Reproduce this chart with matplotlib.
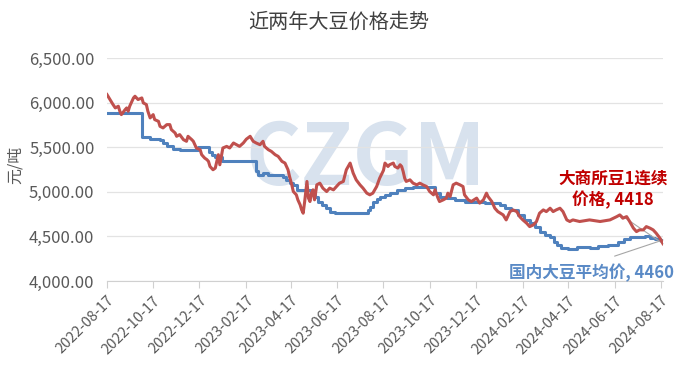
import pandas as pd
import matplotlib
matplotlib.use("Agg")
import matplotlib.pyplot as plt

plt.rcParams["font.family"] = ["Liberation Sans Narrow", "Noto Sans CJK SC", "DejaVu Sans"]

start = pd.Timestamp("2022-08-17")

# 大商所豆1连续 (days after start, price)
red_days = [0, 4, 8, 11, 15, 17, 19, 24, 26, 28, 30, 35, 37, 41, 46, 48, 52, 54, 57, 61,
            63, 68, 70, 74, 79, 83, 85, 90, 92, 96, 101, 105, 107, 112, 114, 118, 123, 125, 129, 132,
            134, 136, 140, 143, 145, 147, 149, 151, 153, 158, 162, 167, 171, 175, 180, 184, 189, 193, 197, 202,
            206, 208, 213, 217, 222, 226, 231, 235, 239, 241, 244, 246, 250, 252, 255, 257, 259, 261, 264, 266,
            268, 270, 272, 274, 277, 281, 285, 290, 294, 299, 303, 307, 312, 316, 321, 325, 329, 334, 338, 343,
            347, 351, 356, 360, 365, 367, 371, 373, 378, 380, 384, 387, 389, 391, 393, 395, 400, 404, 409, 413,
            417, 422, 426, 431, 433, 437, 439, 444, 448, 450, 453, 457, 461, 466, 470, 472, 477, 481, 488, 492,
            497, 501, 503, 508, 512, 516, 523, 527, 532, 536, 541, 545, 549, 554, 558, 563, 567, 571, 576, 580,
            585, 589, 593, 598, 602, 607, 611, 615, 624, 637, 651, 664, 673, 677, 681, 686, 690, 695, 699, 703,
            708, 712, 717, 721, 725, 730, 734]
red_vals = [6090, 6034, 5978, 5940, 5959, 5903, 5865, 5921, 5940, 5903, 5959, 6052, 6071, 6034, 6052, 5996, 5978, 5903, 5828, 5865,
            5809, 5790, 5734, 5716, 5753, 5753, 5697, 5659, 5622, 5641, 5584, 5566, 5622, 5584, 5566, 5491, 5472, 5416, 5378, 5360,
            5341, 5284, 5247, 5266, 5341, 5416, 5303, 5397, 5491, 5509, 5491, 5547, 5528, 5509, 5547, 5590, 5622, 5566, 5547, 5528,
            5566, 5509, 5472, 5453, 5416, 5397, 5341, 5322, 5247, 5172, 5078, 5003, 4966, 4910, 4854, 4797, 4760, 4891, 5116, 4929,
            4891, 4985, 5022, 4910, 5078, 5097, 5041, 5003, 5041, 5022, 5059, 5097, 5116, 5247, 5322, 5210, 5134, 5078, 5041, 4985,
            4966, 4985, 5059, 5153, 5240, 5322, 5284, 5303, 5322, 5284, 5266, 5303, 5284, 5228, 5153, 5116, 5134, 5097, 5078, 5097,
            5078, 5059, 5003, 4966, 5022, 4929, 4891, 4910, 4929, 4985, 4947, 5078, 5097, 5078, 5059, 4966, 4910, 4891, 4929, 4873,
            4910, 4985, 4947, 4891, 4816, 4778, 4741, 4685, 4778, 4797, 4778, 4720, 4685, 4648, 4610, 4629, 4667, 4760, 4797, 4778,
            4816, 4778, 4797, 4816, 4778, 4685, 4667, 4685, 4667, 4685, 4667, 4685, 4722, 4741, 4704, 4722, 4667, 4592, 4554, 4573,
            4573, 4610, 4592, 4573, 4536, 4480, 4418]

# 国内大豆平均价 (step changes)
blue_days = [0, 46, 57, 70, 74, 79, 87, 96, 120, 135, 139, 143, 152, 197, 199, 206, 212, 232, 237, 241,
             245, 251, 270, 274, 278, 284, 289, 294, 301, 344, 347, 351, 356, 360, 367, 373, 383, 393, 404, 413,
             433, 439, 449, 459, 472, 499, 519, 525, 534, 542, 550, 558, 565, 571, 578, 585, 590, 594, 599, 608,
             621, 637, 648, 661, 674, 682, 690, 710, 717, 723, 730, 734]
blue_vals = [5880, 5610, 5590, 5580, 5550, 5510, 5480, 5470, 5505, 5450, 5410, 5395, 5350, 5230, 5190, 5210, 5190, 5170, 5135, 5100,
             5078, 5022, 5003, 4947, 4891, 4850, 4820, 4778, 4760, 4800, 4835, 4891, 4920, 4945, 4966, 4985, 5022, 5040, 5050, 5059,
             4985, 4947, 4929, 4910, 4891, 4870, 4854, 4820, 4797, 4741, 4685, 4650, 4600, 4550, 4520, 4494, 4440, 4404, 4370, 4360,
             4382, 4375, 4393, 4404, 4438, 4470, 4494, 4500, 4483, 4470, 4460, 4460]

tick_labels = ["2022-08-17", "2022-10-17", "2022-12-17", "2023-02-17", "2023-04-17", "2023-06-17", "2023-08-17",
               "2023-10-17", "2023-12-17", "2024-02-17", "2024-04-17", "2024-06-17", "2024-08-17"]
y_ticks = [4000, 4500, 5000, 5500, 6000, 6500]

red_dates = start + pd.to_timedelta(red_days, unit="D")
blue_dates = start + pd.to_timedelta(blue_days, unit="D")

red_c = "#c0504d"
blue_c = "#4f81bd"
grey = "#595959"

fig = plt.figure(figsize=(6.77, 3.73), dpi=100)
ax = fig.add_axes([0.158, 0.2466, 0.8213, 0.598])

# watermark
ax.text(0.466, 0.545, "CZGM", transform=ax.transAxes, ha="center", va="center",
        fontsize=61, fontweight="bold", color="#d8e2ee", zorder=0)

ax.plot(blue_dates, blue_vals, color=blue_c, lw=2.2, drawstyle="steps-post", zorder=3)
ax.plot(red_dates, red_vals, color=red_c, lw=2.2, zorder=4)

ax.set_ylim(4000, 6500)
ax.set_xlim(start, start + pd.Timedelta(days=734))
ax.set_yticks(y_ticks)
ax.set_yticklabels([f"{v:,.2f}" for v in y_ticks])
ax.set_xticks(pd.to_datetime(tick_labels))
ax.set_xticklabels(tick_labels, rotation=45, ha="right", rotation_mode="anchor")

ax.grid(axis="y", color="#e3e3e3", lw=0.9)
ax.set_axisbelow(True)
for s in ["left", "right", "top"]:
    ax.spines[s].set_visible(False)
ax.spines["bottom"].set_color("#d0d0d0")
ax.tick_params(axis="y", length=0, pad=9, labelsize=12, labelcolor=grey)
ax.tick_params(axis="x", length=5, color="#d0d0d0", pad=4, labelsize=10.5, labelcolor=grey)

fig.text(0.5, 1 - 22 / 373, "近两年大豆价格走势", ha="center", va="center",
         fontsize=14.5, color="#404040", family=["Noto Sans CJK SC"])
fig.text(15 / 677, 1 - 165 / 373, "元/吨", rotation=90, ha="center", va="center",
         fontsize=11.5, color=grey, family=["Noto Sans CJK SC"])

ax.annotate("大商所豆1连续\n价格, 4418", xy=(red_dates[-1], red_vals[-1]), xytext=(0.91, 0.41),
            textcoords="axes fraction", ha="center", va="center", fontsize=12, fontweight="bold",
            color="#c00000", linespacing=1.25, family=["Noto Sans CJK SC", "DejaVu Sans"],
            arrowprops=dict(arrowstyle="-", color="#a6a6a6", lw=0.8, relpos=(0.5, 0), shrinkA=3, shrinkB=0))
ax.annotate("国内大豆平均价, 4460", xy=(blue_dates[-1], blue_vals[-1]), xytext=(0.872, 0.036),
            textcoords="axes fraction", ha="center", va="center", fontsize=12, fontweight="bold",
            color="#5a8ac6", family=["Noto Sans CJK SC", "DejaVu Sans"],
            arrowprops=dict(arrowstyle="-", color="#a6a6a6", lw=0.8, relpos=(0.5, 1), shrinkA=11, shrinkB=0))

fig.savefig("out.png", dpi=100)
